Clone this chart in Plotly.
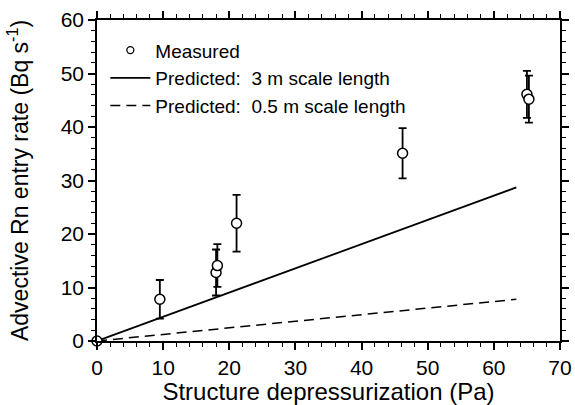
import plotly.graph_objects as go

# Measured data
meas_x = [0, 9.5, 18.0, 18.2, 21.1, 46.2, 65.0, 65.3]
meas_y = [0, 7.8, 12.8, 14.1, 22.0, 35.1, 46.1, 45.2]
meas_err = [0, 3.6, 4.3, 4.0, 5.3, 4.7, 4.4, 4.4]

# Predicted lines
pred3_x = [0, 63.4]
pred3_y = [0, 28.7]
pred05_x = [0, 63.4]
pred05_y = [0, 7.8]

FONT = "Liberation Sans, Arial, Helvetica, sans-serif"

fig = go.Figure()
fig.add_trace(go.Scatter(x=pred3_x, y=pred3_y, mode="lines",
                         line=dict(color="black", width=1.8),
                         name="Predicted:  3 m scale length", legendrank=2))
fig.add_trace(go.Scatter(x=pred05_x, y=pred05_y, mode="lines",
                         line=dict(color="black", width=1.5, dash="10px,6px"),
                         name="Predicted:  0.5 m scale length", legendrank=3))
fig.add_trace(go.Scatter(x=meas_x, y=meas_y, mode="markers",
                         marker=dict(symbol="circle", size=10, color="white",
                                     line=dict(color="black", width=1.5)),
                         error_y=dict(type="data", array=meas_err, color="black",
                                      thickness=1.8, width=4),
                         cliponaxis=False, showlegend=False, name="Measured"))
fig.add_trace(go.Scatter(x=[None], y=[None], mode="markers",
                         marker=dict(symbol="circle", size=7, color="white",
                                     line=dict(color="black", width=1.3)),
                         name="Measured", legendrank=1))

axis_common = dict(showgrid=False, zeroline=False, showline=True, linecolor="black",
                   linewidth=1.5, mirror="allticks", ticks="outside", ticklen=7,
                   tickwidth=1.5, tickcolor="black", automargin=True,
                   tickfont=dict(family=FONT, size=21, color="black"),
                   minor=dict(ticks="outside", ticklen=4, tickwidth=1.2,
                              tickcolor="black", dtick=2))

fig.update_xaxes(range=[0, 70], dtick=10, tick0=0,
                 title=dict(text="Structure depressurization (Pa)",
                            font=dict(family=FONT, size=24, color="black"), standoff=6),
                 **axis_common)
fig.update_yaxes(range=[0, 60], dtick=10, tick0=0,
                 title=dict(text="Advective Rn entry rate (Bq s<sup>-1</sup>)",
                            font=dict(family=FONT, size=23, color="black"), standoff=26),
                 **axis_common)

fig.update_layout(
    width=575, height=405,
    margin=dict(l=97, r=15, t=20, b=64, autoexpand=False),
    paper_bgcolor="white", plot_bgcolor="white",
    legend=dict(x=0.018, y=0.965, xanchor="left", yanchor="top",
                bgcolor="rgba(0,0,0,0)", font=dict(family=FONT, size=19, color="black"),
                tracegroupgap=0, itemwidth=40),
)

fig.write_html("out.html")
